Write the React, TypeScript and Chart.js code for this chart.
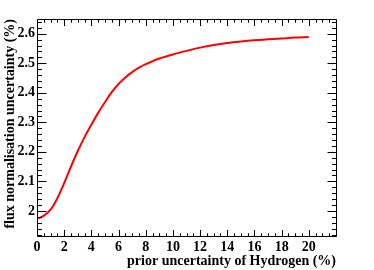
import React, { useEffect, useRef } from "react";
import { Chart, registerables } from "chart.js";

Chart.register(...registerables);

const hydrogenPrior = [0.1, 0.5, 1.0, 1.5, 2.0, 2.5, 3.0, 3.5, 4.0, 4.5, 5.0, 5.5, 6.0, 6.5, 7.0, 7.5, 8.0, 8.5, 9.0, 9.5, 10.0, 11.0, 12.0, 13.0, 14.0, 15.0, 16.0, 17.0, 18.0, 19.0, 20.0];
const fluxUncertainty = [1.974, 1.984, 2.004, 2.043, 2.094, 2.150, 2.203, 2.250, 2.292, 2.332, 2.368, 2.402, 2.430, 2.452, 2.470, 2.485, 2.497, 2.507, 2.516, 2.523, 2.530, 2.542, 2.553, 2.562, 2.569, 2.574, 2.578, 2.581, 2.584, 2.587, 2.589];

const xMajorTicks = [0, 2, 4, 6, 8, 10, 12, 14, 16, 18, 20];
const yMajorTicks = [2.0, 2.1, 2.2, 2.3, 2.4, 2.5, 2.6];
const xRange = [0, 22];
const yRange = [1.915, 2.65];
const xMinorStep = 0.5;
const yMinorStep = 0.02;

const FONT = "'Liberation Serif', 'Times New Roman', serif";

const framePlugin = {
  id: "rootFrame",
  afterDatasetsDraw(chart: any) {
    const { ctx, chartArea: a, scales } = chart;
    const xs = scales.x;
    const ys = scales.y;
    ctx.save();
    ctx.strokeStyle = "#000";
    ctx.lineWidth = 1;
    ctx.beginPath();
    const L = Math.round(a.left) + 0.5;
    const R = Math.round(a.right) + 0.5;
    const T = Math.round(a.top) + 0.5;
    const B = Math.round(a.bottom) + 0.5;
    ctx.rect(L, T, R - L, B - T);
    const h = a.bottom - a.top;
    const w = a.right - a.left;
    const xMaj = 0.03 * h;
    const yMaj = 0.03 * w;
    const nx = Math.round((xRange[1] - xRange[0]) / xMinorStep);
    for (let i = 0; i <= nx; i++) {
      const v = xRange[0] + i * xMinorStep;
      const major = xMajorTicks.some((t) => Math.abs(t - v) < 1e-9);
      const len = major ? xMaj : xMaj / 2;
      const px = Math.round(xs.getPixelForValue(v)) + 0.5;
      ctx.moveTo(px, B);
      ctx.lineTo(px, B - len);
      ctx.moveTo(px, T);
      ctx.lineTo(px, T + len);
    }
    const start = Math.ceil(yRange[0] / yMinorStep - 1e-9);
    const end = Math.floor(yRange[1] / yMinorStep + 1e-9);
    for (let i = start; i <= end; i++) {
      const v = i * yMinorStep;
      const major = yMajorTicks.some((t) => Math.abs(t - v) < 1e-9);
      const len = major ? yMaj : yMaj / 2;
      const py = Math.round(ys.getPixelForValue(v)) + 0.5;
      ctx.moveTo(L, py);
      ctx.lineTo(L + len, py);
      ctx.moveTo(R, py);
      ctx.lineTo(R - len, py);
    }
    ctx.stroke();
    ctx.restore();
  },
};

export default function App() {
  const ref = useRef<HTMLCanvasElement>(null);
  useEffect(() => {
    document.body.style.margin = "0";
    const canvas = ref.current!;
    const chart = new Chart(canvas, {
      type: "line",
      data: {
        datasets: [
          {
            data: hydrogenPrior.map((x, i) => ({ x, y: fluxUncertainty[i] })),
            borderColor: "#ff0000",
            borderWidth: 2,
            pointRadius: 0,
            cubicInterpolationMode: "monotone",
            fill: false,
          },
        ],
      },
      options: {
        animation: false,
        responsive: false,
        devicePixelRatio: 1,
        layout: { padding: { top: 19, right: 38, left: 0, bottom: 0 } },
        plugins: { legend: { display: false }, tooltip: { enabled: false } },
        scales: {
          x: {
            type: "linear",
            min: xRange[0],
            max: xRange[1],
            grid: { display: false, drawTicks: false },
            border: { display: false },
            afterBuildTicks: (s: any) => {
              s.ticks = xMajorTicks.map((v) => ({ value: v }));
            },
            afterFit: (s: any) => {
              s.height = 34;
            },
            ticks: {
              autoSkip: false,
              maxRotation: 0,
              padding: 3,
              color: "#000",
              font: { family: FONT, weight: "bold", size: 14 },
              callback: (v: any) => String(v),
            },
            title: {
              display: true,
              text: "prior uncertainty of Hydrogen (%)",
              align: "end",
              color: "#000",
              font: { family: FONT, weight: "bold", size: 14 },
              padding: { top: 0, bottom: 0 },
            },
          },
          y: {
            type: "linear",
            min: yRange[0],
            max: yRange[1],
            grid: { display: false, drawTicks: false },
            border: { display: false },
            afterBuildTicks: (s: any) => {
              s.ticks = yMajorTicks.map((v) => ({ value: v }));
            },
            afterFit: (s: any) => {
              s.width = 37;
            },
            ticks: {
              autoSkip: false,
              padding: 2,
              color: "#000",
              font: { family: FONT, weight: "bold", size: 14 },
              callback: (v: any) => {
                const n = Number(v);
                return Math.abs(n - Math.round(n)) < 1e-9 ? String(Math.round(n)) : n.toFixed(1);
              },
            },
            title: {
              display: true,
              text: "flux normalisation uncertainty (%)",
              align: "end",
              color: "#000",
              font: { family: FONT, weight: "bold", size: 14 },
              padding: { top: 2, bottom: 0 },
            },
          },
        },
      },
      plugins: [framePlugin],
    } as any);
    return () => chart.destroy();
  }, []);
  return (
    <div style={{ width: 374, height: 270, background: "#fff" }}>
      <canvas ref={ref} width={374} height={270} style={{ display: "block" }} />
    </div>
  );
}
